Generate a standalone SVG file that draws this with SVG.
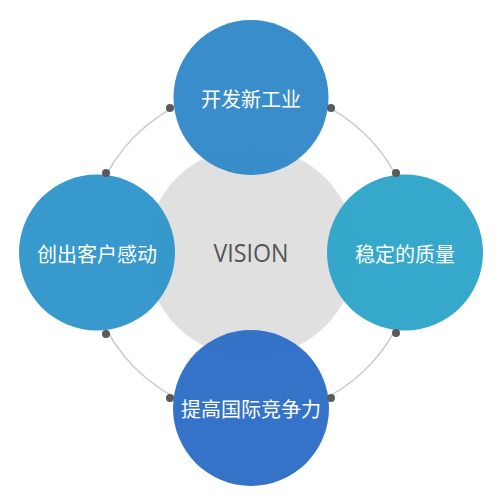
<svg xmlns="http://www.w3.org/2000/svg" width="500" height="500" viewBox="0 0 500 500">
<style>
.lbl{font-family:"Noto Sans CJK SC","Noto Sans",sans-serif;font-size:20px;fill:#ffffff;text-anchor:middle;dominant-baseline:central}
.node{opacity:0.95}
.mask{fill:#ffffff}
.dot{fill:#5a5a5a}
</style>
<rect width="500" height="500" fill="#ffffff"/>
<g id="connectors">
<circle cx="251" cy="252" r="164" fill="none" stroke="#cccccc" stroke-width="1.5"/>
<circle class="mask" cx="251" cy="97.5" r="77.5"/>
<circle class="mask" cx="97" cy="252.5" r="78"/>
<circle class="mask" cx="405" cy="252.5" r="78"/>
<circle class="mask" cx="251" cy="408" r="78"/>
</g>
<g id="center">
<circle cx="251" cy="252" r="105" fill="#e0e0e0"/>
<text x="251" y="252" font-family="'Open Sans','DejaVu Sans',sans-serif" font-size="26" fill="#555555" text-anchor="middle" dominant-baseline="central" textLength="75" lengthAdjust="spacingAndGlyphs">VISION</text>
</g>
<g id="top">
<circle class="node" cx="251" cy="97.5" r="77.5" fill="#2d87c7"/>
<text class="lbl" x="251" y="98">开发新工业</text>
</g>
<g id="left">
<circle class="node" cx="97" cy="252.5" r="78" fill="#2c94c9"/>
<text class="lbl" x="97" y="253">创出客户感动</text>
</g>
<g id="right">
<circle class="node" cx="405" cy="252.5" r="78" fill="#2ba3c8"/>
<text class="lbl" x="405" y="253">稳定的质量</text>
</g>
<g id="bottom">
<circle class="node" cx="251" cy="408" r="78" fill="#2a6bc6"/>
<text class="lbl" x="251" y="408">提高国际竞争力</text>
</g>
<g id="dots">
<circle class="dot" cx="170" cy="108" r="4"/>
<circle class="dot" cx="331" cy="108" r="4"/>
<circle class="dot" cx="396" cy="173" r="4"/>
<circle class="dot" cx="396" cy="333" r="4"/>
<circle class="dot" cx="106" cy="173" r="4"/>
<circle class="dot" cx="106" cy="334" r="4"/>
<circle class="dot" cx="170" cy="398" r="4"/>
<circle class="dot" cx="331" cy="398" r="4"/>
</g>
</svg>
